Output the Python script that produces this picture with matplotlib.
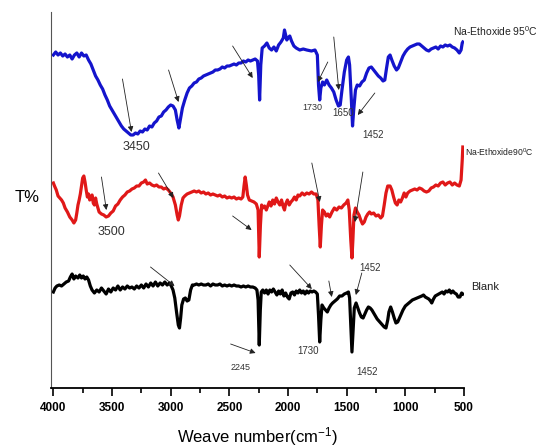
import numpy as np
import matplotlib.pyplot as plt

plt.rcParams['font.family'] = ['Liberation Sans', 'DejaVu Sans']
plt.rcParams['mathtext.fontset'] = 'custom'
plt.rcParams['mathtext.rm'] = 'Liberation Sans'
plt.rcParams['mathtext.default'] = 'regular'

# Na-Ethoxide 95 C (blue)
wn_blue = [4000, 3980, 3960, 3940, 3920, 3900, 3880, 3860, 3840, 3820, 3800, 3780, 3760, 3740, 3720,
           3700, 3680, 3660, 3640, 3620, 3600, 3580, 3560, 3540, 3520, 3500, 3480, 3460, 3440, 3420,
           3400, 3380, 3360, 3340, 3320, 3300, 3280, 3260, 3240, 3220, 3200, 3180, 3160, 3140, 3120,
           3100, 3080, 3060, 3040, 3020, 3000, 2980, 2960, 2945, 2930, 2915, 2900, 2880, 2860, 2840,
           2820, 2800, 2780, 2760, 2740, 2720, 2700, 2680, 2660, 2640, 2620, 2600, 2580, 2560, 2540,
           2520, 2500, 2480, 2460, 2440, 2420, 2400, 2380, 2360, 2340, 2320, 2300, 2280, 2260, 2250,
           2242, 2232, 2220, 2200, 2180, 2160, 2140, 2120, 2100, 2080, 2060, 2040, 2030, 2020, 2010,
           2000, 1985, 1970, 1950, 1930, 1900, 1870, 1840, 1800, 1770, 1750, 1740, 1730, 1720, 1705,
           1690, 1670, 1650, 1630, 1610, 1590, 1570, 1555, 1540, 1520, 1500, 1485, 1475, 1460, 1450,
           1440, 1425, 1410, 1390, 1370, 1350, 1330, 1310, 1290, 1270, 1250, 1230, 1210, 1190, 1175,
           1160, 1145, 1130, 1115, 1095, 1075, 1060, 1040, 1020, 1000, 980, 960, 940, 920, 900,
           880, 860, 840, 820, 800, 780, 760, 740, 720, 700, 680, 660, 640, 620, 600,
           580, 560, 540, 525, 515, 510]
t_blue = [333, 336, 333, 335, 332, 334, 331, 333, 329, 333, 335, 331, 335, 332, 333,
          328, 324, 318, 312, 308, 303, 299, 293, 288, 282, 278, 274, 270, 266, 262,
          259, 257, 255, 253, 253, 255, 254, 257, 256, 259, 258, 262, 261, 265, 267,
          271, 272, 276, 278, 281, 283, 282, 278, 268, 260, 270, 280, 288, 295, 300,
          302, 305, 306, 309, 310, 312, 313, 314, 315, 316, 318, 318, 319, 321, 320,
          322, 322, 323, 324, 323, 325, 325, 327, 326, 328, 327, 328, 329, 327, 313,
          288, 323, 340, 342, 345, 340, 338, 341, 337, 343, 346, 350, 358, 353, 348,
          350, 352, 347, 342, 340, 338, 339, 338, 337, 338, 333, 303, 288, 300, 306,
          303, 308, 303, 300, 296, 288, 282, 283, 298, 316, 328, 331, 323, 288, 262,
          278, 298, 303, 302, 306, 308, 315, 320, 321, 318, 315, 312, 310, 307, 308,
          320, 331, 333, 328, 322, 318, 320, 326, 332, 336, 339, 341, 342, 343, 344,
          344, 342, 340, 338, 337, 339, 340, 341, 339, 342, 341, 343, 342, 343, 341,
          340, 338, 335, 338, 345, 346]

# Na-Ethoxide 90 C (red)
wn_red = [4000, 3990, 3975, 3960, 3945, 3930, 3915, 3900, 3880, 3860, 3840, 3825, 3810, 3800, 3790,
          3780, 3770, 3760, 3750, 3740, 3730, 3720, 3710, 3700, 3690, 3680, 3670, 3660, 3650, 3640,
          3630, 3620, 3610, 3590, 3570, 3550, 3530, 3510, 3490, 3470, 3450, 3430, 3410, 3390, 3370,
          3350, 3330, 3310, 3290, 3270, 3250, 3230, 3215, 3200, 3180, 3160, 3140, 3120, 3100, 3080,
          3060, 3040, 3020, 3000, 2980, 2960, 2945, 2935, 2925, 2910, 2895, 2880, 2860, 2840, 2820,
          2800, 2780, 2760, 2740, 2720, 2700, 2680, 2660, 2640, 2620, 2600, 2580, 2560, 2540, 2520,
          2500, 2480, 2460, 2440, 2420, 2400, 2385, 2375, 2365, 2355, 2345, 2330, 2310, 2290, 2270,
          2255, 2245, 2235, 2225, 2215, 2200, 2185, 2170, 2160, 2145, 2130, 2115, 2100, 2085, 2070,
          2055, 2040, 2030, 2020, 2005, 1990, 1975, 1960, 1945, 1930, 1915, 1900, 1880, 1860, 1840,
          1820, 1800, 1780, 1760, 1745, 1735, 1725, 1715, 1705, 1690, 1675, 1660, 1645, 1625, 1605,
          1585, 1565, 1545, 1525, 1505, 1490, 1478, 1465, 1455, 1447, 1438, 1425, 1410, 1395, 1380,
          1365, 1350, 1335, 1320, 1305, 1290, 1270, 1250, 1230, 1210, 1195, 1180, 1165, 1150, 1130,
          1115, 1100, 1085, 1070, 1055, 1040, 1025, 1010, 995, 980, 960, 940, 920, 900, 880,
          860, 840, 820, 800, 780, 760, 740, 720, 700, 680, 660, 640, 620, 600, 580,
          560, 540, 525, 515, 510]
t_red = [205, 202, 198, 192, 190, 188, 185, 180, 176, 171, 168, 165, 168, 175, 183,
         188, 194, 202, 210, 212, 206, 198, 191, 194, 188, 191, 193, 185, 183, 190,
         184, 180, 176, 174, 173, 171, 172, 175, 177, 182, 184, 188, 191, 193, 196,
         197, 199, 200, 202, 202, 205, 206, 208, 204, 205, 203, 202, 203, 201, 201,
         199, 200, 198, 195, 191, 183, 173, 168, 172, 183, 190, 192, 194, 195, 196,
         197, 196, 197, 195, 196, 194, 195, 193, 194, 193, 192, 193, 191, 192, 190,
         191, 190, 191, 189, 190, 189, 191, 202, 211, 203, 193, 188, 187, 186, 184,
         178, 131, 163, 183, 180, 182, 178, 183, 186, 182, 188, 184, 190, 186, 183,
         188, 181, 178, 184, 188, 183, 186, 188, 191, 188, 193, 192, 195, 193, 195,
         194, 196, 194, 194, 188, 163, 141, 163, 178, 176, 172, 174, 171, 176, 180,
         178, 181, 180, 183, 185, 188, 178, 148, 130, 148, 173, 180, 176, 173, 168,
         164, 166, 171, 174, 176, 174, 175, 172, 173, 170, 172, 183, 195, 202, 202,
         198, 191, 185, 183, 188, 186, 190, 195, 191, 195, 197, 198, 199, 198, 200,
         199, 197, 196, 197, 200, 201, 203, 202, 205, 206, 203, 205, 206, 203, 205,
         203, 202, 208, 228, 241]

# Blank (black)
wn_blank = [4000, 3985, 3970, 3950, 3930, 3910, 3890, 3870, 3855, 3840, 3825, 3810, 3790, 3775, 3760,
            3745, 3730, 3715, 3700, 3685, 3670, 3650, 3630, 3610, 3590, 3570, 3550, 3530, 3510, 3490,
            3470, 3450, 3430, 3410, 3390, 3370, 3350, 3330, 3310, 3290, 3270, 3250, 3230, 3210, 3190,
            3170, 3150, 3130, 3110, 3090, 3070, 3050, 3030, 3010, 2995, 2980, 2965, 2950, 2935, 2925,
            2915, 2905, 2890, 2875, 2860, 2845, 2830, 2815, 2800, 2780, 2760, 2740, 2720, 2700, 2680,
            2660, 2640, 2620, 2600, 2580, 2560, 2540, 2520, 2500, 2480, 2460, 2440, 2420, 2400, 2380,
            2360, 2340, 2320, 2300, 2280, 2265, 2255, 2245, 2236, 2228, 2215, 2200, 2185, 2170, 2155,
            2140, 2125, 2110, 2095, 2080, 2065, 2050, 2035, 2020, 2005, 1990, 1975, 1960, 1945, 1930,
            1915, 1900, 1885, 1870, 1855, 1840, 1825, 1810, 1795, 1780, 1765, 1750, 1740, 1730, 1720,
            1710, 1695, 1680, 1665, 1650, 1635, 1620, 1600, 1580, 1560, 1540, 1520, 1500, 1485, 1475,
            1465, 1455, 1445, 1435, 1420, 1405, 1390, 1375, 1360, 1345, 1330, 1315, 1300, 1285, 1270,
            1255, 1240, 1225, 1210, 1195, 1180, 1165, 1150, 1140, 1125, 1110, 1095, 1080, 1065, 1050,
            1035, 1020, 1000, 980, 960, 940, 920, 900, 880, 860, 845, 830, 815, 800, 785,
            775, 760, 745, 730, 715, 700, 685, 670, 655, 640, 625, 610, 595, 580, 565,
            550, 535, 520, 510]
t_blank = [96, 100, 102, 103, 102, 104, 106, 107, 111, 114, 109, 112, 110, 113, 110,
           112, 109, 111, 108, 102, 98, 95, 98, 96, 100, 97, 94, 99, 96, 100,
           98, 102, 98, 101, 99, 102, 100, 101, 99, 102, 100, 103, 100, 104, 101,
           105, 102, 106, 102, 105, 103, 106, 103, 105, 102, 98, 90, 76, 63, 60,
           70, 83, 89, 90, 87, 88, 98, 103, 103, 104, 103, 104, 103, 103, 104,
           102, 104, 103, 103, 104, 102, 103, 102, 103, 102, 103, 102, 102, 101, 102,
           101, 102, 101, 101, 100, 98, 88, 43, 78, 96, 98, 95, 98, 94, 98,
           96, 99, 96, 93, 97, 94, 98, 92, 95, 91, 89, 95, 96, 93, 97,
           95, 98, 95, 97, 94, 97, 95, 97, 96, 97, 96, 94, 73, 46, 68,
           83, 80, 78, 76, 80, 83, 85, 87, 89, 92, 92, 94, 95, 96, 90,
           63, 36, 58, 80, 85, 80, 75, 71, 70, 74, 78, 81, 80, 78, 75,
           72, 69, 67, 65, 63, 61, 60, 68, 76, 81, 76, 70, 65, 66, 70,
           74, 78, 82, 84, 86, 88, 89, 90, 91, 92, 93, 91, 90, 89, 87,
           85, 89, 92, 93, 94, 95, 96, 94, 97, 96, 98, 95, 97, 95, 94,
           91, 91, 95, 94]

# peak labels: (text, x, y, fontsize)
peak_labels = [('3450', 3291, 241, 9), ('1730', 1789, 281, 6.5), ('1650', 1533, 275, 7),
               ('1452', 1277, 253, 7), ('3500', 3505, 156, 9), ('1452', 1302, 120, 7),
               ('2245', 2404, 21, 6.5), ('1730', 1832, 37, 7), ('1452', 1328, 16, 7)]
# arrows: (tail_x, tail_y, head_x, head_y)
arrows = [(3411, 309, 3334, 256), (3018, 318, 2933, 286), (2472, 342, 2301, 310),
          (1661, 326, 1746, 306), (1610, 351, 1567, 298), (1260, 295, 1405, 273),
          (3590, 211, 3548, 178), (3104, 215, 2976, 190), (2472, 172, 2310, 158),
          (1797, 225, 1729, 186), (1362, 216, 1430, 166),
          (3172, 121, 2967, 102), (2489, 44, 2276, 35), (1985, 123, 1797, 99),
          (1652, 107, 1627, 91), (1371, 115, 1422, 93)]
# trace names
names = [('Na-Ethoxide 95$^0$C', 594, 357, 7.5), ('Na-Ethoxide90$^0$C', 490, 236, 6.2),
         ('Blank', 440, 101, 8)]

fig = plt.figure(figsize=(5.39, 4.47), dpi=100)
ax = fig.add_axes([51 / 539, 59 / 447, 413 / 539, 376 / 447])

ax.plot(wn_blue, t_blue, color='#1414cc', lw=2.3, solid_joinstyle='round')
ax.plot(wn_red, t_red, color='#e01818', lw=2.3, solid_joinstyle='round')
ax.plot(wn_blank, t_blank, color='black', lw=2.3, solid_joinstyle='round')

for tx, ty, hx, hy in arrows:
    ax.annotate('', xy=(hx, hy), xytext=(tx, ty),
                arrowprops=dict(arrowstyle='-|>', color='#222222', lw=0.6,
                                mutation_scale=8, shrinkA=0, shrinkB=0))

for s, x, y, fs in peak_labels:
    ax.text(x, y, s, ha='center', va='center', fontsize=fs, color='#333333')

for s, x, y, fs in names:
    ax.text(x, y, s, ha='left', va='center', fontsize=fs, color='#222222', clip_on=False)

ax.set_xlim(4020, 500)
ax.set_ylim(0, 376)
ax.set_xticks([4000, 3500, 3000, 2500, 2000, 1500, 1000, 500])
ax.set_xticks(np.arange(3750, 500, -500), minor=True)
ax.tick_params(axis='x', which='major', length=6, width=1.2, labelsize=8.5, pad=4)
ax.tick_params(axis='x', which='minor', length=3.5, width=1.2)
for lab in ax.get_xticklabels():
    lab.set_fontweight('bold')
ax.set_yticks([])
ax.spines['top'].set_visible(False)
ax.spines['right'].set_visible(False)
ax.spines['bottom'].set_linewidth(1.3)
ax.spines['left'].set_linewidth(0.8)
ax.spines['left'].set_color('#555555')

ax.set_xlabel('Weave number(cm$^{-1}$)', fontsize=12, labelpad=8)
fig.text(27 / 539, 1 - 197 / 447, 'T%', ha='center', va='center', fontsize=12)

fig.savefig('out.png', dpi=100)
